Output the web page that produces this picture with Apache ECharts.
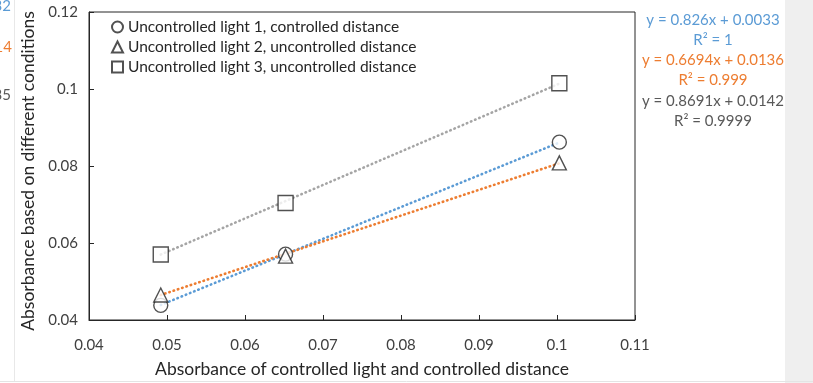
<!DOCTYPE html>
<html>
<head>
<meta charset="utf-8">
<script src="https://cdn.jsdelivr.net/npm/echarts@6/dist/echarts.min.js"></script>
<style>
  html, body { margin: 0; padding: 0; background: #fff; }
  #chart { width: 813px; height: 383px; }
</style>
</head>
<body>
<div id="chart"></div>
<script>
// measured points (x = controlled light/distance, y = condition)
const xValues = [0.0492, 0.0652, 0.1003];
const light1 = [0.0438, 0.0571, 0.0862];
const light2 = [0.0465, 0.0566, 0.0808];
const light3 = [0.0570, 0.0704, 0.1015];

// linear trendlines, endpoints
const trendX = [0.0492, 0.1003];
const trend1 = [0.0439, 0.0861];
const trend2 = [0.0465, 0.0807];
const trend3 = [0.0570, 0.1014];

const seriesNames = [
    "Uncontrolled light 1, controlled distance",
    "Uncontrolled light 2, uncontrolled distance",
    "Uncontrolled light 3, uncontrolled distance",
];
const equations = [
    "y = 0.826x + 0.0033", "R² = 1",
    "y = 0.6694x + 0.0136", "R² = 0.999",
    "y = 0.8691x + 0.0142", "R² = 0.9999",
];
const xTicks = [0.04, 0.11, 0.01];
const yTicks = [0.04, 0.12, 0.02];

const FONT = "Lato";
const blue = "#5b9bd5";
const orange = "#ed7d31";
const gray = "#a5a5a5";
const eqColors = [blue, blue, orange, orange, "#595959", "#595959"];

const pair = (xs, ys) => xs.map((x, i) => [x, ys[i]]);

const chart = echarts.init(document.getElementById("chart"));

const graphics = [
    { type: "rect", shape: { x: 785, y: 0, width: 28, height: 383 }, style: { fill: "#efefef" }, silent: true },
    { type: "line", shape: { x1: 0, y1: 381.5, x2: 813, y2: 381.5 }, style: { stroke: "#e4e4e4", lineWidth: 1 } },
    { type: "line", shape: { x1: 14.5, y1: 0, x2: 14.5, y2: 381 }, style: { stroke: "#e8e8e8", lineWidth: 1 } },
    // cut-off labels of the neighbouring chart
    { type: "text", x: 11, y: 6, style: { text: "32", fill: blue, font: "15px " + FONT, align: "right", verticalAlign: "middle" } },
    { type: "text", x: 12, y: 47, style: { text: "14", fill: orange, font: "15px " + FONT, align: "right", verticalAlign: "middle" } },
    { type: "text", x: 11, y: 95, style: { text: "35", fill: "#595959", font: "15px " + FONT, align: "right", verticalAlign: "middle" } },
];
equations.forEach((t, i) => {
    graphics.push({
        type: "text",
        x: 713,
        y: 20 + i * 20.2,
        style: { text: t, fill: eqColors[i], font: "15px " + FONT, align: "center", verticalAlign: "middle" },
    });
});

const markerStyle = { color: "#fff", borderColor: "#262626", borderWidth: 1.4 };
const dotted = (color) => ({ color: color, width: 2.6, type: [0.5, 4], cap: "round" });

const options = {
    animation: false,
    textStyle: { fontFamily: FONT },
    grid: { left: 89, right: 178, top: 12, bottom: 62, show: true, borderColor: "#262626", borderWidth: 1 },
    legend: {
        left: 106,
        top: 14,
        orient: "vertical",
        itemGap: 4,
        itemWidth: 11,
        itemHeight: 11,
        data: seriesNames,
        textStyle: { fontSize: 15.5, color: "#262626", fontFamily: FONT },
    },
    graphic: graphics,
    xAxis: {
        type: "value",
        min: xTicks[0],
        max: xTicks[1],
        interval: xTicks[2],
        name: "Absorbance of controlled light and controlled distance",
        nameLocation: "middle",
        nameGap: 40,
        nameTextStyle: { fontSize: 17.5, color: "#262626" },
        axisLine: { lineStyle: { color: "#262626" } },
        axisTick: { inside: true, length: 5, lineStyle: { color: "#262626" } },
        axisLabel: { fontSize: 15, color: "#404040", margin: 18, formatter: (v) => +v.toFixed(2) },
        splitLine: { show: false },
    },
    yAxis: {
        type: "value",
        min: yTicks[0],
        max: yTicks[1],
        interval: yTicks[2],
        name: "Absorbance based on different conditions",
        nameLocation: "middle",
        nameGap: 52,
        nameTextStyle: { fontSize: 17.5, color: "#262626", padding: [0, 10, 0, 0] },
        axisLine: { show: true, lineStyle: { color: "#262626" } },
        axisTick: { show: true, inside: true, length: 5, lineStyle: { color: "#262626" } },
        axisLabel: { fontSize: 15, color: "#404040", margin: 11, formatter: (v) => +v.toFixed(2) },
        splitLine: { show: false },
    },
    series: [
        { type: "line", data: pair(trendX, trend1), symbol: "none", silent: true, z: 1, lineStyle: dotted(blue) },
        { type: "line", data: pair(trendX, trend2), symbol: "none", silent: true, z: 1, lineStyle: dotted(orange) },
        { type: "line", data: pair(trendX, trend3), symbol: "none", silent: true, z: 1, lineStyle: dotted(gray) },
        { name: seriesNames[0], type: "scatter", data: pair(xValues, light1), symbol: "circle", symbolSize: 14, itemStyle: markerStyle, z: 3 },
        { name: seriesNames[1], type: "scatter", data: pair(xValues, light2), symbol: "triangle", symbolSize: 14, itemStyle: markerStyle, z: 3 },
        { name: seriesNames[2], type: "scatter", data: pair(xValues, light3), symbol: "rect", symbolSize: 15, itemStyle: markerStyle, z: 3 },
    ],
};

chart.setOption(options);
</script>
</body>
</html>
